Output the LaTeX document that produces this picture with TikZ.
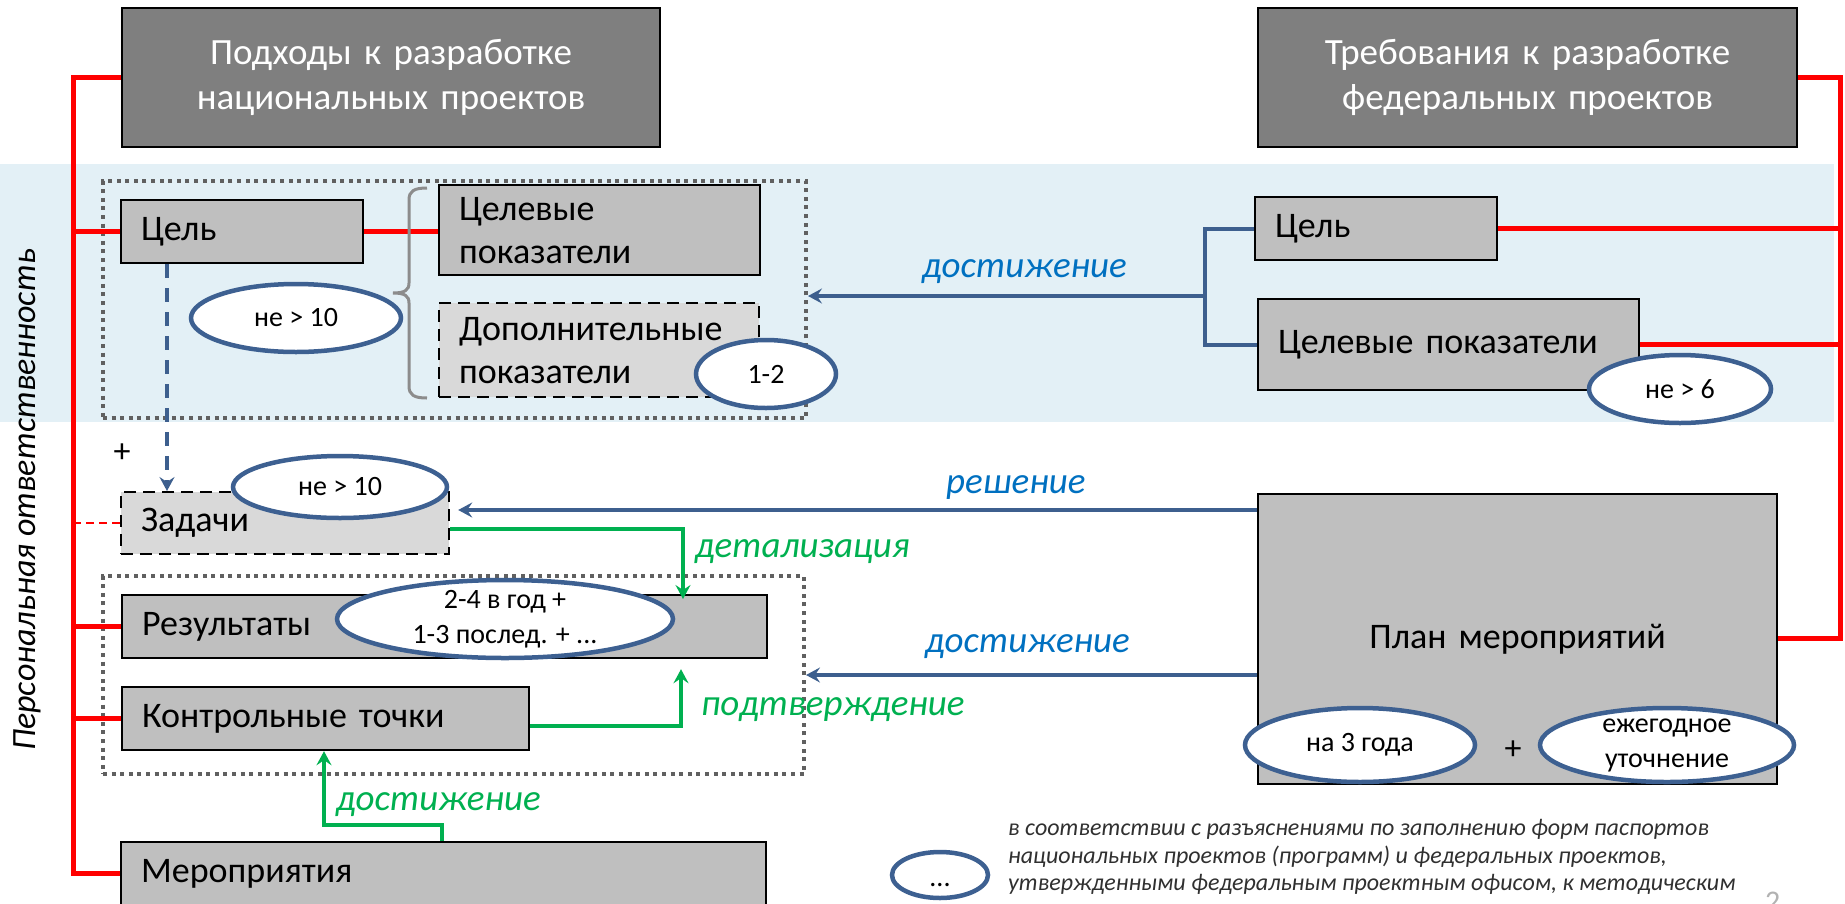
\documentclass[tikz,border=0pt]{standalone}
\usepackage{fontspec}
\setmainfont{Carlito}
\usetikzlibrary{arrows.meta,shapes.geometric}
\definecolor{hdrgray}{HTML}{7F7F7F}
\definecolor{boxgray}{HTML}{BFBFBF}
\definecolor{lgfill}{HTML}{D9D9D9}
\definecolor{bandblue}{HTML}{E3F0F6}
\definecolor{ovalblue}{HTML}{3D6091}
\definecolor{arrblue}{HTML}{3D5F8E}
\definecolor{lblblue}{HTML}{0070C0}
\definecolor{grn}{HTML}{00B050}
\definecolor{dotgray}{HTML}{606060}
\definecolor{bracegray}{HTML}{8C8C8C}
\definecolor{legtext}{HTML}{303030}
\newcommand\FSz[2]{\fontsize{#1}{#2}\selectfont}
\begin{document}
\begin{tikzpicture}[x=1pt,y=-1pt,
  box/.style={draw=black, line width=2.2pt, fill=boxgray, anchor=north west, inner xsep=20pt, inner ysep=0pt, align=left, font=\FSz{36}{43}},
  dbox/.style={box, fill=lgfill, dash pattern=on 12pt off 7pt},
  hdr/.style={draw=black, line width=2.2pt, fill=hdrgray, anchor=north west, inner xsep=20pt, inner ysep=0pt, align=center, text=white, font=\FSz{37}{45}},
  oval/.style={ellipse, draw=ovalblue, line width=4.5pt, fill=white, inner sep=0pt},
  ovaltxt/.style={inner sep=0pt, align=center, font=\FSz{28}{35}},
  dotbox/.style={draw=dotgray, line width=4pt, dash pattern=on 4pt off 4.6pt, anchor=north west, inner sep=0pt},
  redline/.style={draw=red, line width=5pt},
  reddash/.style={draw=red, line width=1.5pt, dash pattern=on 8pt off 5pt},
  bline/.style={draw=arrblue, line width=4pt},
  barrow/.style={draw=arrblue, line width=4pt, -{Stealth[length=14pt,width=15pt,inset=5pt]}},
  bdash/.style={barrow, dash pattern=on 14pt off 10pt},
  garrow/.style={draw=grn, line width=4pt, -{Stealth[length=14pt,width=15pt,inset=5pt]}},
  lblb/.style={text=lblblue, font=\FSz{37}{44}\itshape, anchor=base west, inner sep=0pt},
  lblg/.style={lblb, text=grn},
  legend/.style={anchor=base west, inner sep=0pt, text=legtext, font=\FSz{24}{28}\itshape},
  brace/.style={draw=bracegray, line width=3pt},
  plus/.style={font=\FSz{34}{40}, inner sep=0pt}
]
\useasboundingbox (0,0) rectangle (1845,903);
\clip (0,0) rectangle (1845,903);
\fill[bandblue] (0,164) rectangle (1834,422);

% dotted group frames
\node[dotbox, minimum width=703pt, minimum height=237pt] (dot1) at (101,179) {};
\node[dotbox, minimum width=701pt, minimum height=198pt] (dot2) at (101,574) {};

% headers
\node[hdr, text width=498pt, minimum height=139pt] (hdrL) at (121,7) {Подходы к разработке\\национальных проектов};
\node[hdr, text width=499pt, minimum height=139pt] (hdrR) at (1257,7) {Требования к разработке\\федеральных проектов};

% red connectors
\coordinate (trL) at (73,0);
\coordinate (trR) at (1840,0);
\draw[redline] (hdrL.west) -| (trL |- 0,873) -- (120,873);
\draw[redline] (hdrR.east) -| (trR |- 0,638) -- (1776,638);

% left boxes
\node[box, text width=202pt, minimum height=63pt] (goalL) at (120,199) {Цель};
\node[box, text width=281pt, minimum height=90pt] (tgtL) at (438,184) {Целевые\\показатели};
\node[dbox, text width=280pt, minimum height=94pt] (addL) at (438,302) {Дополнительные\\показатели};
\node[dbox, text width=288pt, minimum height=62pt] (zad) at (120,491) {Задачи};
\node[box, text width=605pt, minimum height=63pt] (res) at (121,594) {Результаты};
\node[box, text width=367pt, minimum height=63pt] (kt) at (121,686) {Контрольные точки};
\node[box, text width=605pt, minimum height=64pt] (mer) at (120,841) {Мероприятия};

% right boxes
\node[box, text width=202pt, minimum height=63pt] (goalR) at (1254,196) {Цель};
\node[box, text width=341pt, minimum height=91pt] (tgtR) at (1257,298) {Целевые показатели};
\node[box, align=center, text width=479pt, minimum height=290pt] (plan) at (1257,493) {План мероприятий};

% red branches
\draw[redline] (trL |- goalL.west) -- (goalL.west);
\draw[redline] (trL |- res.west) -- (res.west);
\draw[redline] (trL |- kt.west) -- (kt.west);
\draw[redline] (goalL.east) -- (goalL.east -| tgtL.west);
\draw[reddash] (trL |- zad.west) -- (zad.west);
\draw[redline] (goalR.east) -- (trR |- goalR.east);
\draw[redline] (tgtR.east) -- (trR |- tgtR.east);

% brace
\draw[brace] (427,188) .. controls (414,188) and (409,191) .. (409,200) -- (409,283) .. controls (409,290) and (405,293) .. (393,293) .. controls (405,293) and (409,296) .. (409,303) -- (409,386) .. controls (409,395) and (414,398) .. (427,398);

% blue connectors
\coordinate (bx) at (1205,296);
\draw[bline] (goalR.west) -- (bx |- goalR.west) -- (bx |- tgtR.west) -- (tgtR.west);
\draw[barrow] (bx) -- (dot1.east |- bx);
\coordinate (rs) at (0,510);
\draw[barrow, shorten >=8pt] (plan.west |- rs) -- (zad.east |- rs);
\draw[barrow] (plan.west |- dot2.east) -- (dot2.east);
\coordinate (bd) at (167,0);
\draw[bdash] (goalL.south -| bd) -- (zad.north -| bd);

% green connectors
\coordinate (g1) at (683,529);
\draw[garrow, shorten >=-5pt] (zad.east |- g1) -- (g1) -- (g1 |- res.north);
\coordinate (g2) at (681,726);
\draw[garrow, shorten >=10pt] (kt.east |- g2) -- (g2) -- (g2 |- res.south);
\coordinate (g3) at (442,825);
\coordinate (g4) at (324,825);
\draw[garrow] (mer.north -| g3) -- (g3) -- (g4) -- (kt.south -| g4);

% ovals
\node[oval, minimum width=210pt, minimum height=68pt] (e1) at (296,318) {};
\node[ovaltxt] (e1t) at (e1) {не > 10};
\node[oval, minimum width=140pt, minimum height=68pt] (e2) at (766,374) {};
\node[ovaltxt] (e2t) at (e2) {1-2};
\node[oval, minimum width=182pt, minimum height=68pt] (e3) at (1680,389) {};
\node[ovaltxt] (e3t) at (e3) {не > 6};
\node[oval, minimum width=214pt, minimum height=62pt] (e4) at (340,487) {};
\node[ovaltxt] (e4t) at (e4) {не > 10};
\node[oval, minimum width=336pt, minimum height=78pt] (e5) at (505,619) {};
\node[ovaltxt] (e5t) at (e5) {2-4 в год +\\1-3 послед. + ...};
\node[oval, minimum width=230pt, minimum height=74pt] (e6) at (1360,745) {};
\node[ovaltxt] (e6t) at (e6) {на 3 года};
\node[oval, minimum width=254pt, minimum height=74pt] (e7) at (1667,745) {};
\node[ovaltxt] (e7t) at (e7) {ежегодное\\уточнение};
\node[oval, minimum width=96pt, minimum height=46pt] (e8) at (940,875) {};
\node[ovaltxt, anchor=base] (e8t) at (940,886) {...};

% plus signs
\node[plus] (p1) at (122,453) {+};
\node[plus] (p2) at (1513,750) {+};

% connector labels
\node[lblb] (l1) at (922,277) {достижение};
\node[lblb] (l2) at (946,493) {решение};
\node[lblb] (l3) at (925,652) {достижение};
\node[lblg] (l4) at (695,557) {детализация};
\node[lblg] (l5) at (701,715) {подтверждение};
\node[lblg] (l6) at (336,810) {достижение};

% vertical text
\node[rotate=90, font=\FSz{34}{40}\itshape, inner sep=0pt] (vt) at (27,500) {Персональная ответственность};

% legend
\node[legend] (leg1) at (1008,835) {в соответствии с разъяснениями по заполнению форм паспортов};
\node[legend] (leg2) at (1008,863) {национальных проектов (программ) и федеральных проектов,};
\node[legend] (leg3) at (1008,890) {утвержденными федеральным проектным офисом, к методическим};
\node[anchor=north west, inner sep=0pt, text=gray!60, font=\FSz{30}{34}] (pg) at (1765,892) {2};
\end{tikzpicture}
\end{document}
